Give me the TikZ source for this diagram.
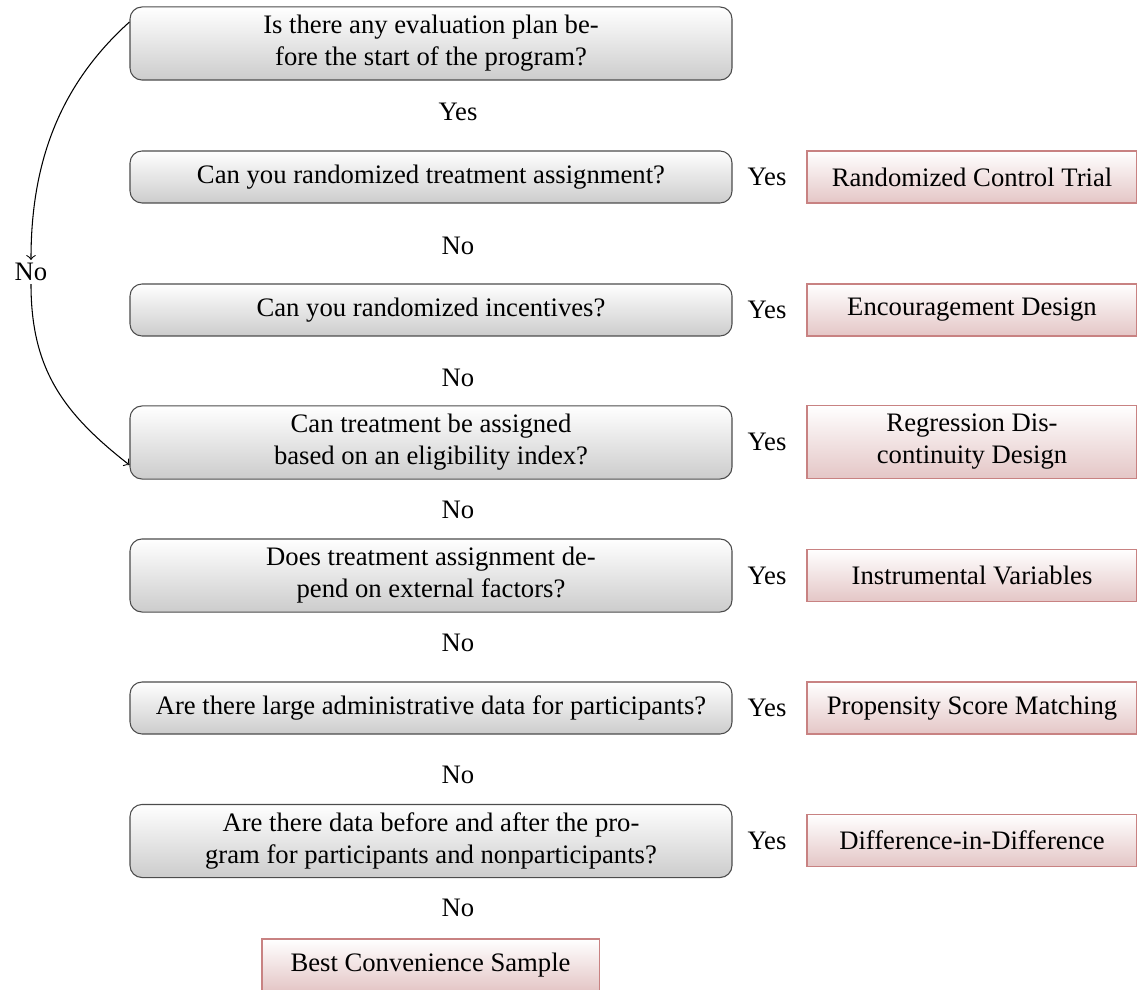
\documentclass[tikz,border=0pt]{standalone}
\usepackage{fontspec}
\setmainfont{Liberation Serif}
\usetikzlibrary{calc}
\definecolor{redborder}{RGB}{200,130,130}
\definecolor{redbottom}{RGB}{228,198,198}
\tikzset{
  qbox/.style={draw=black!70, rounded corners=4.5pt, top color=white, bottom color=gray!40,
    minimum width=225.75pt, align=center, inner sep=0pt, font=\fontsize{10}{12}\selectfont},
  abox/.style={draw=redborder, top color=white, bottom color=redbottom,
    minimum width=123.75pt, minimum height=19.5pt, align=center, inner sep=0pt, font=\fontsize{10}{12}\selectfont},
  lbl/.style={inner sep=1pt, font=\fontsize{10}{12}\selectfont},
  tall/.style={minimum height=27.4pt},
  short/.style={minimum height=19.5pt}
}
\begin{document}
\begin{tikzpicture}[x=0.375pt,y=0.375pt]
\useasboundingbox (0,0) rectangle (1137,-990);
% question boxes
\node[qbox,tall]  (q1) at (431,-43.5) {Is there any evaluation plan be-\\fore the start of the program?};
\node[qbox,short] (q2) at (431,-177) {Can you randomized treatment assignment?};
\node[qbox,short] (q3) at (431,-310) {Can you randomized incentives?};
\node[qbox,tall]  (q4) at (431,-442.5) {Can treatment be assigned\\based on an eligibility index?};
\node[qbox,tall]  (q5) at (431,-575.5) {Does treatment assignment de-\\pend on external factors?};
\node[qbox,short] (q6) at (431,-708) {Are there large administrative data for participants?};
\node[qbox,tall]  (q7) at (431,-841) {Are there data before and after the pro-\\gram for participants and nonparticipants?};
% answer boxes
\node[abox] (r2) at (972,-177) {Randomized Control Trial};
\node[abox] (r3) at (972,-310) {Encouragement Design};
\node[abox,minimum height=27.4pt] (r4) at (972,-442) {Regression Dis-\\continuity Design};
\node[abox] (r5) at (972,-575.5) {Instrumental Variables};
\node[abox] (r6) at (972,-708) {Propensity Score Matching};
\node[abox] (r7) at (972,-840.5) {Difference-in-Difference};
\node[abox,minimum width=126.4pt] (r8) at (430.5,-965) {Best Convenience Sample};
% labels
\node[lbl] (y1) at (458,-112) {Yes};
\node[lbl] (y2) at (767,-177) {Yes};
\node[lbl] (y3) at (767,-310) {Yes};
\node[lbl] (y4) at (767,-442) {Yes};
\node[lbl] (y5) at (767,-575.5) {Yes};
\node[lbl] (y6) at (767,-708) {Yes};
\node[lbl] (y7) at (767,-840.5) {Yes};
\node[lbl] (n2) at (458,-246) {No};
\node[lbl] (n3) at (458,-378) {No};
\node[lbl] (n4) at (458,-510) {No};
\node[lbl] (n5) at (458,-643) {No};
\node[lbl] (n6) at (458,-775) {No};
\node[lbl] (n7) at (458,-908) {No};
\node[lbl] (n1) at (31,-272) {No};
% curved connectors
\coordinate (s1) at ($(q1.west)+(0,21.5)$);
\coordinate (e1) at ($(q4.west)+(0,-22.5)$);
\draw[->] (s1) to[out=222,in=90,looseness=0.95] (n1.north);
\draw[->] (n1.south) to[out=270,in=142,looseness=1.05] (e1);
\end{tikzpicture}
\end{document}
